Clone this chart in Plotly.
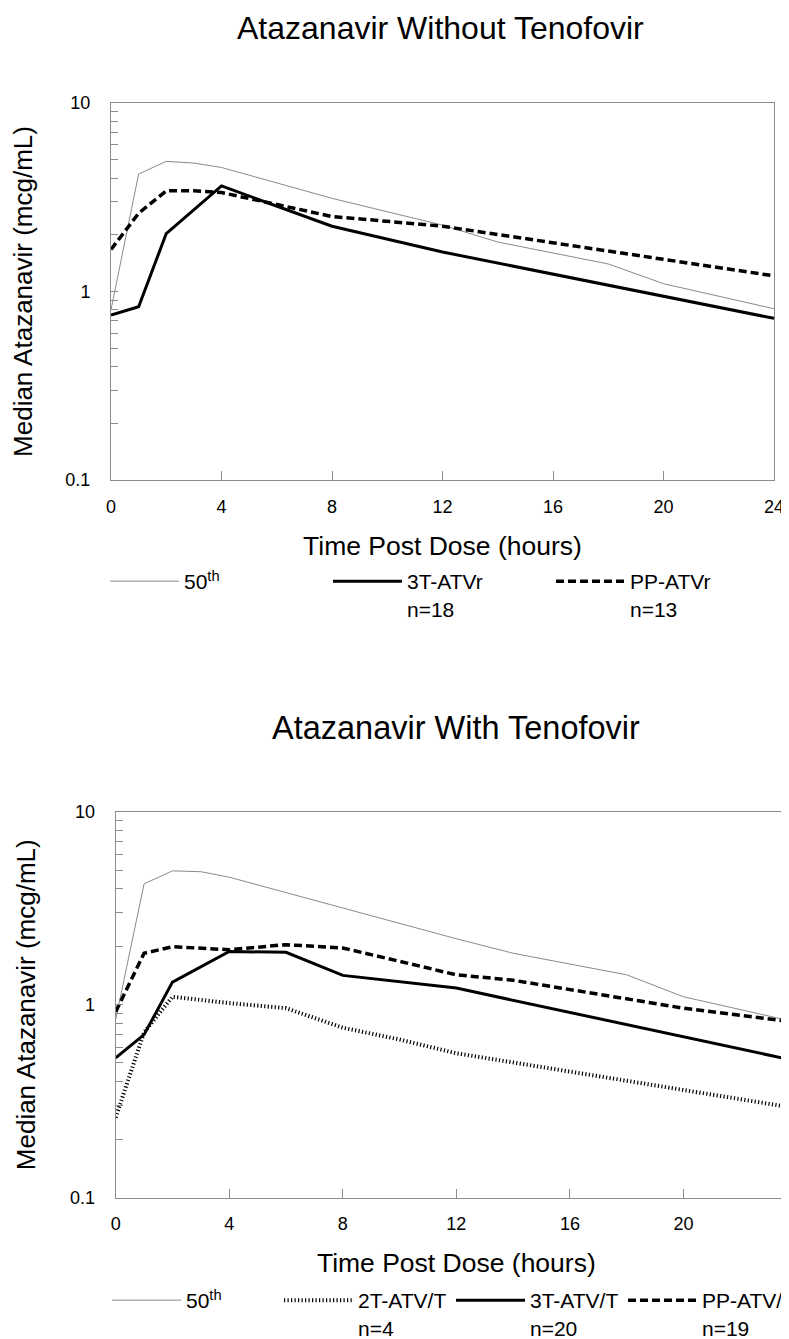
import plotly.graph_objects as go

# ---------------- data ----------------
# Top panel: Atazanavir without tenofovir
top_t_50 = [0, 1, 2, 3, 4, 8, 12, 14, 18, 20, 24]
top_v_50 = [0.80, 4.2, 4.9, 4.8, 4.55, 3.12, 2.25, 1.83, 1.40, 1.10, 0.81]
top_t_3T = [0, 1, 2, 4, 8, 12, 24]
top_v_3T = [0.75, 0.83, 2.03, 3.63, 2.22, 1.62, 0.72]
top_t_PP = [0, 1, 2, 3, 4, 8, 12, 24]
top_v_PP = [1.67, 2.6, 3.42, 3.42, 3.35, 2.5, 2.22, 1.21]

# Bottom panel: Atazanavir with tenofovir
bot_t_50 = [0, 1, 2, 3, 4, 8, 12, 14, 18, 20, 24]
bot_v_50 = [0.84, 4.24, 4.95, 4.9, 4.59, 3.17, 2.2, 1.85, 1.43, 1.10, 0.81]
bot_t_2T = [0, 1, 2, 4, 6, 8, 10, 12, 16, 20, 24]
bot_v_2T = [0.26, 0.72, 1.10, 1.02, 0.96, 0.76, 0.66, 0.56, 0.45, 0.36, 0.29]
bot_t_3T = [0, 1, 2, 4, 6, 8, 12, 24]
bot_v_3T = [0.53, 0.70, 1.31, 1.89, 1.87, 1.42, 1.22, 0.51]
bot_t_PP = [0, 1, 2, 4, 6, 8, 10, 12, 14, 18, 20, 24]
bot_v_PP = [0.92, 1.85, 2.0, 1.93, 2.05, 1.97, 1.68, 1.43, 1.34, 1.07, 0.96, 0.81]

top_names = ["50<sup>th</sup>", "3T-ATVr<br>n=18", "PP-ATVr<br>n=13"]
bot_names = ["50<sup>th</sup>", "2T-ATV/T<br>n=4", "3T-ATV/T<br>n=20", "PP-ATV/T<br>n=19"]

titles = ["Atazanavir Without Tenofovir", "Atazanavir With Tenofovir"]
x_title = "Time Post Dose (hours)"
y_title = "Median Atazanavir (mcg/mL)"

x_tickvals = [0, 4, 8, 12, 16, 20, 24]
y_tickvals = [0.1, 0.2, 0.3, 0.4, 0.5, 0.6, 0.7, 0.8, 0.9,
              1, 2, 3, 4, 5, 6, 7, 8, 9, 10]
y_ticktext = ["0.1", "", "", "", "", "", "", "", "",
              "1", "", "", "", "", "", "", "", "", "10"]

# ---------------- styles ----------------
W, H = 789, 1339
OFF = 8  # page body margin
FONT = "Liberation Sans, Arial, sans-serif"
GRAY_AX = "#8c8c8c"
s50 = dict(color="#8a8a8a", width=1)
s3T = dict(color="black", width=3)
sPP = dict(color="black", width=3.5, dash="8px,4px")
s2T = dict(color="black", width=4, dash="1.2px,2.3px")

fig = go.Figure()

def add(x, y, name, line, xa, ya, leg):
    fig.add_trace(go.Scatter(x=x, y=y, name=name, mode="lines", line=line,
                             xaxis=xa, yaxis=ya, legend=leg, hoverinfo="skip"))

add(top_t_50, top_v_50, top_names[0], s50, "x", "y", "legend")
add(top_t_3T, top_v_3T, top_names[1], s3T, "x", "y", "legend")
add(top_t_PP, top_v_PP, top_names[2], sPP, "x", "y", "legend")

add(bot_t_50, bot_v_50, bot_names[0], s50, "x2", "y2", "legend2")
add(bot_t_2T, bot_v_2T, bot_names[1], s2T, "x2", "y2", "legend2")
add(bot_t_3T, bot_v_3T, bot_names[2], s3T, "x2", "y2", "legend2")
add(bot_t_PP, bot_v_PP, bot_names[3], sPP, "x2", "y2", "legend2")

def px_x(p):
    return min(1.0, max(0.0, (p - OFF) / W))

def px_y(p):
    return min(1.0, max(0.0, 1 - (p - OFF) / H))

xcommon = dict(tickvals=x_tickvals, ticks="inside", ticklen=9, tickcolor=GRAY_AX,
               showline=True, linecolor=GRAY_AX, linewidth=1, showgrid=False,
               zeroline=False, automargin=False,
               tickfont=dict(family=FONT, size=18, color="black"),
               ticklabelstandoff=10,
               title=dict(text=x_title, font=dict(family=FONT, size=26.5, color="black"),
                          standoff=20))
ycommon = dict(type="log", range=[-1, 1], tickvals=y_tickvals, ticktext=y_ticktext,
               ticks="inside", ticklen=7, tickcolor=GRAY_AX,
               showline=True, linecolor=GRAY_AX, linewidth=1, showgrid=False,
               zeroline=False, automargin=False,
               tickfont=dict(family=FONT, size=18, color="black"),
               ticklabelstandoff=16,
               title=dict(text=y_title, font=dict(family=FONT, size=26, color="black"),
                          standoff=26))

legend_common = dict(orientation="h", xanchor="left", yanchor="top", valign="top",
                     font=dict(family=FONT, size=21, color="black"),
                     itemwidth=69, entrywidthmode="pixels",
                     bgcolor="rgba(0,0,0,0)", traceorder="normal", borderwidth=0)

fig.update_layout(
    template="none",
    width=W, height=H,
    margin=dict(l=0, r=0, t=0, b=0, autoexpand=False),
    paper_bgcolor="white", plot_bgcolor="white",
    font=dict(family=FONT, color="black"),
    showlegend=True,
    xaxis=dict(xcommon, domain=[px_x(111), px_x(774)], range=[0, 24],
               anchor="y", mirror=True),
    yaxis=dict(ycommon, domain=[px_y(480), px_y(103)], anchor="x", mirror=True),
    xaxis2=dict(xcommon, domain=[px_x(115.7), 1.0], range=[0, 24],
                anchor="y2", mirror=True),
    yaxis2=dict(ycommon, domain=[px_y(1197.5), px_y(812)], anchor="x2", mirror=True),
    legend=dict(legend_common, x=px_x(105), y=px_y(561), entrywidth=139),
    legend2=dict(legend_common, x=px_x(107), y=px_y(1280), entrywidth=88),
    annotations=[
        dict(text=titles[0], x=px_x(441), y=1.0, xref="paper", yref="paper",
             xanchor="center", yanchor="top",
             showarrow=False, font=dict(family=FONT, size=32, color="black")),
        dict(text=titles[1], x=px_x(456), y=px_y(728), xref="paper", yref="paper",
             xanchor="center", yanchor="middle",
             showarrow=False, font=dict(family=FONT, size=32.5, color="black")),
    ],
)

fig.write_html("out.html")
